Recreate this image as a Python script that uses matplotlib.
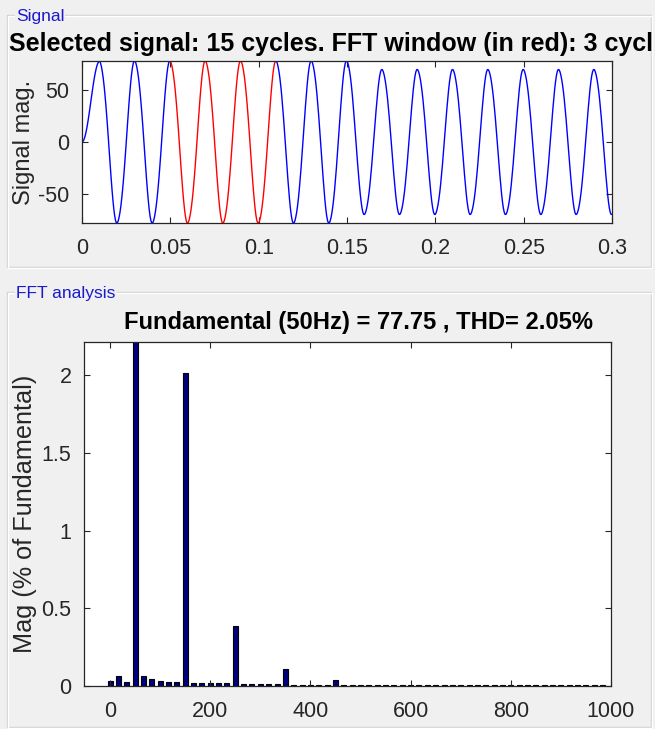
import numpy as np
import matplotlib
matplotlib.use("Agg")
import matplotlib.pyplot as plt
from matplotlib.patches import Rectangle

# ---- signal definition -------------------------------------------------
f0 = 50.0                 # fundamental frequency (Hz)
fs = 2000.0               # sampling rate (Hz)
t_end = 0.3               # selected signal length (s): 15 cycles
amp_before = 77.75        # fundamental amplitude before the step
amp_after = 69.5          # fundamental amplitude after the step
t_step = 0.155            # time of the amplitude step (s)
t_startup = 0.01          # soft start: first half cycle rises from zero
harmonic_orders = [3, 5, 7, 9]
harmonic_pct = [2.013, 0.384, 0.11, 0.04]   # % of fundamental
window_start = 0.05       # FFT window start (s)
window_cycles = 3

# ---- FFT result (% of fundamental), bins every fs/120 Hz ---------------
freq_step = 1000.0 / 60.0
spectrum_pct = [0.034, 0.063, 0.026, 100.0, 0.063, 0.043, 0.034, 0.026, 0.026, 2.013,
                0.017, 0.017, 0.019, 0.017, 0.017, 0.384, 0.011, 0.011, 0.011, 0.011,
                0.011, 0.110, 0.009, 0.009, 0.009, 0.009, 0.009, 0.040, 0.008, 0.008,
                0.008, 0.008, 0.008, 0.008, 0.008, 0.008, 0.008, 0.008, 0.008, 0.008,
                0.008, 0.008, 0.008, 0.008, 0.008, 0.008, 0.008, 0.008, 0.008, 0.008,
                0.008, 0.008, 0.008, 0.008, 0.008, 0.008, 0.008, 0.008, 0.008, 0.008]
fundamental = 77.75
thd = 2.05

sig_xticks = [0, 0.05, 0.1, 0.15, 0.2, 0.25, 0.3]
sig_xticklabels = ["0", "0.05", "0.1", "0.15", "0.2", "0.25", "0.3"]
sig_yticks = [-50, 0, 50]
fft_xticks = [0, 200, 400, 600, 800, 1000]
fft_yticks = [0, 0.5, 1, 1.5, 2]
fft_yticklabels = ["0", "0.5", "1", "1.5", "2"]

# ---- build the waveform -------------------------------------------------
t = np.arange(0, t_end + 1e-9, 1.0 / fs)
amp = np.where(t < t_step, amp_before, amp_after)
w = 2 * np.pi * f0
y = -amp * np.cos(w * t)
for h, p in zip(harmonic_orders, harmonic_pct):
    y = y + amp * p / 100.0 * np.sin(h * w * t)
start = t < t_startup
y[start] = amp_before / 2 * (1 - np.cos(w * t[start]))
t_win_end = window_start + window_cycles / f0
eps = 1e-9
pre = t <= window_start + eps
win = (t >= window_start - eps) & (t <= t_win_end + eps)
post = t >= t_win_end - eps

freqs = np.arange(len(spectrum_pct)) * freq_step

# ---- figure --------------------------------------------------------------
W, H = 655, 729
BG = "#f0f0f0"
AX_COL = "#262626"
plt.rcParams["font.family"] = ["Liberation Sans", "DejaVu Sans"]
plt.rcParams["axes.unicode_minus"] = False
fig = plt.figure(figsize=(W / 100, H / 100), dpi=100, facecolor=BG)


def fx(px):
    return px / W


def fy(py):
    return 1 - py / H


def axes_px(left, top, right, bottom):
    return fig.add_axes([fx(left), fy(bottom), (right - left) / W, (bottom - top) / H])


def group_box(left, top, right, bottom, label, lab_x):
    # etched frame: grey line with a white highlight
    for off, col in ((0, "#d0d0d0"), (1, "#ffffff")):
        fig.add_artist(Rectangle((fx(left + off), fy(bottom + off)),
                                 (right - left) / W, (bottom - top) / H,
                                 transform=fig.transFigure, fill=False,
                                 edgecolor=col, linewidth=1.0, zorder=0))
    fig.text(fx(lab_x), fy(top + 2), label, color="#1a1acc", fontsize=12.5,
             ha="left", va="center", zorder=2,
             bbox=dict(facecolor=BG, edgecolor="none", pad=0.5))


group_box(7, 15, 651, 267, "Signal", 16)
group_box(7, 292, 651, 727, "FFT analysis", 16)


def style_axes(ax):
    for s in ax.spines.values():
        s.set_color(AX_COL)
        s.set_linewidth(0.9)
    ax.tick_params(direction="in", top=True, right=True, length=4.5,
                   width=0.8, color=AX_COL, labelcolor=AX_COL, labelsize=15.5)
    ax.tick_params(axis="x", pad=11)
    ax.tick_params(axis="y", pad=9)
    ax.set_facecolor("white")


# Signal panel
ax1 = axes_px(82, 61, 612, 223)
ax1.plot(t[pre], y[pre], color="#0000ff", linewidth=1.0)
ax1.plot(t[post], y[post], color="#0000ff", linewidth=1.0)
ax1.plot(t[win], y[win], color="#ff0000", linewidth=1.0)
ax1.set_xlim(0, t_end)
ax1.set_ylim(y.min(), y.max())
ax1.set_xticks(sig_xticks)
ax1.set_xticklabels(sig_xticklabels)
ax1.set_yticks(sig_yticks)
style_axes(ax1)
ax1.set_ylabel("Signal mag.", fontsize=17, color=AX_COL, labelpad=2)
ttl = fig.text(fx(9), fy(44), "Selected signal: %d cycles. FFT window (in red): %d cycles"
               % (round(t_end * f0), window_cycles),
               ha="left", va="center", fontsize=18, fontweight="bold", color="black")
clip = Rectangle((fx(7), fy(267)), (652 - 7) / W, (267 - 15) / H, transform=fig.transFigure,
                 visible=False)
fig.add_artist(clip)
ttl.set_clip_path(clip)

# FFT panel
ax2 = axes_px(84, 342, 611, 686)
ax2.bar(freqs, spectrum_pct, width=10, color="#00007f", edgecolor="black", linewidth=0.8)
ax2.set_xlim(-52, 1000)
ax2.set_ylim(0, max(v for v in spectrum_pct if v < 50) * 1.1)
ax2.set_xticks(fft_xticks)
ax2.set_yticks(fft_yticks)
ax2.set_yticklabels(fft_yticklabels)
style_axes(ax2)
ax2.set_ylabel("Mag (% of Fundamental)", fontsize=18.2, color=AX_COL, labelpad=3)
fig.text(fx(359), fy(323), "Fundamental (%dHz) = %.2f , THD= %.2f%%" % (f0, fundamental, thd),
         ha="center", va="center", fontsize=17.1, fontweight="bold", color="black")

fig.savefig("out.png", dpi=100, facecolor=BG)
